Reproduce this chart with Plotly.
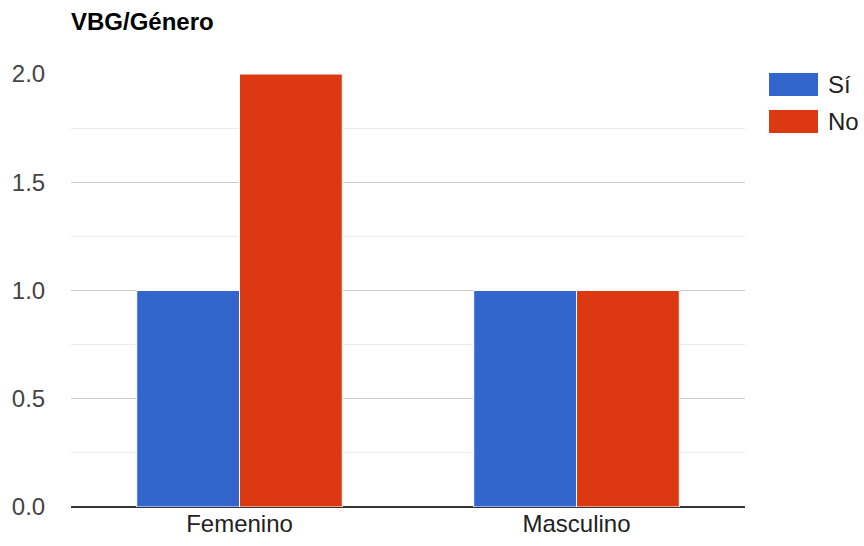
import plotly.graph_objects as go

categories = ["Femenino", "Masculino"]
series_names = ["Sí", "No"]
si_values = [1, 1]
no_values = [2, 1]
colors = ["#3366cc", "#dc3912"]
y_ticks = [0.0, 0.5, 1.0, 1.5, 2.0]
y_ticklabels = ["0.0", "0.5", "1.0", "1.5", "2.0"]

FONT = "Liberation Sans, Arial, sans-serif"
FS = 24

# page body margin is removed below, so figure sits at (0, 0)
W, H = 864, 546
L, R, T, B = 71, 119, 74, 39
PW = W - L - R
PH = H - T - B


def px_to_paper_x(px):
    return (px - L) / PW


def px_to_paper_y(py):
    return (H - B - py) / PH


fig = go.Figure()
for name, vals, col in zip(series_names, [si_values, no_values], colors):
    fig.add_trace(go.Bar(
        x=categories, y=vals, name=name,
        marker=dict(color=col, line=dict(color="white", width=1)),
        showlegend=False,
    ))

# custom legend with large swatches like the original
for i, (name, col) in enumerate(zip(series_names, colors)):
    top = 73 + i * 37
    fig.add_shape(type="rect", xref="paper", yref="paper",
                  x0=px_to_paper_x(769), x1=px_to_paper_x(818),
                  y0=px_to_paper_y(top + 23), y1=px_to_paper_y(top),
                  fillcolor=col, line=dict(color=col, width=0))
    fig.add_annotation(xref="paper", yref="paper", x=px_to_paper_x(826),
                       y=px_to_paper_y(top + 11.5),
                       text=name, showarrow=False, xanchor="left", yanchor="middle",
                       font=dict(family=FONT, size=FS, color="#222222"))

fig.update_layout(
    width=W, height=H,
    margin=dict(l=L, r=R, t=T, b=B, autoexpand=False),
    paper_bgcolor="white", plot_bgcolor="white",
    barmode="group", bargap=0.39, bargroupgap=0.0,
    title=dict(text="<b>VBG/Género</b>", x=71 / W, xanchor="left",
               y=1 - 22 / H, yanchor="middle",
               font=dict(family=FONT, size=FS, color="#000000")),
    font=dict(family=FONT, size=FS, color="#444444"),
    xaxis=dict(showgrid=False, showline=False, ticks="", ticklen=0,
               automargin=False,
               tickfont=dict(family=FONT, size=FS, color="#222222")),
    yaxis=dict(range=[0, 2], tickvals=y_ticks, ticktext=y_ticklabels,
               showgrid=True, gridcolor="#cccccc", gridwidth=1,
               zeroline=True, zerolinecolor="#333333", zerolinewidth=1.5,
               ticks="outside", ticklen=20, tickcolor="rgba(0,0,0,0)",
               automargin=False,
               minor=dict(tickvals=[0.25, 0.75, 1.25, 1.75], showgrid=True,
                          gridcolor="#ebebeb", gridwidth=1),
               tickfont=dict(family=FONT, size=FS, color="#444444")),
)

fig.write_html("out.html", config={"displayModeBar": False},
               post_script="document.body.style.margin='0';document.body.style.overflow='hidden';")
